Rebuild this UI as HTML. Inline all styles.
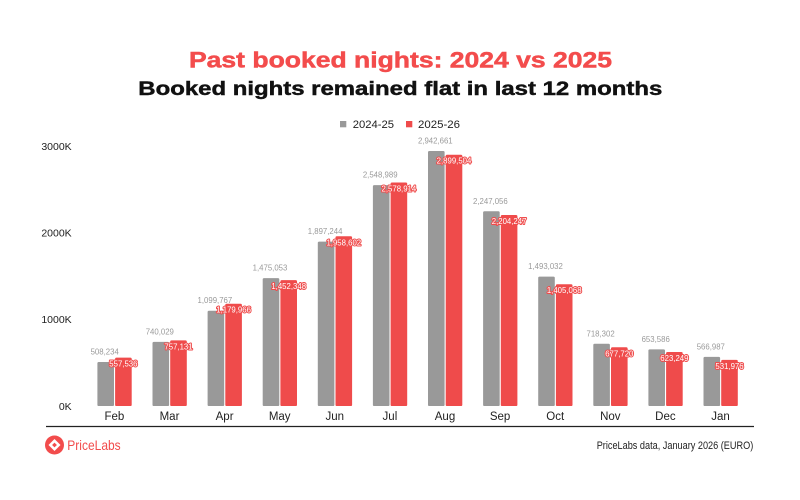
<!DOCTYPE html>
<html>
<head>
<meta charset="utf-8">
<style>
html,body{margin:0;padding:0;background:#fff;}
svg{display:block;}
text{font-family:"Liberation Sans",Arial,sans-serif;}
</style>
</head>
<body>
<svg width="800" height="500" viewBox="0 0 800 500" xmlns="http://www.w3.org/2000/svg">
<rect width="800" height="500" fill="#fff"/>

<!-- Titles -->
<text x="189" y="67.7" font-size="22" font-weight="bold" fill="#f34c4c" stroke="#f34c4c" stroke-width="0.5" textLength="423" lengthAdjust="spacingAndGlyphs">Past booked nights: 2024 vs 2025</text>
<text x="138.3" y="95" font-size="19" font-weight="bold" fill="#111" stroke="#111" stroke-width="0.45" textLength="524" lengthAdjust="spacingAndGlyphs">Booked nights remained flat in last 12 months</text>

<!-- Legend -->
<rect x="340" y="121" width="6.3" height="6.3" fill="#999999"/>
<text x="352.7" y="128" font-size="11.3" fill="#222" textLength="41.3" lengthAdjust="spacingAndGlyphs">2024-25</text>
<rect x="406" y="121" width="6.3" height="6.3" fill="#ef4b4b"/>
<text x="418" y="128" font-size="11.3" fill="#222" textLength="42" lengthAdjust="spacingAndGlyphs">2025-26</text>

<!-- Y axis labels -->
<g font-size="10.5" fill="#222" text-anchor="end">
<text x="71.7" y="149.8">3000K</text>
<text x="71.7" y="236.5">2000K</text>
<text x="71.7" y="323.1">1000K</text>
<text x="71.7" y="409.8">0K</text>
</g>

<!-- Gray bars -->
<g fill="#999999">
<rect x="97.4" y="361.95" width="16.6" height="44.05" rx="1.3"/>
<rect x="152.5" y="341.86" width="16.6" height="64.14" rx="1.3"/>
<rect x="207.6" y="310.69" width="16.6" height="95.31" rx="1.3"/>
<rect x="262.7" y="278.16" width="16.6" height="127.84" rx="1.3"/>
<rect x="317.8" y="241.57" width="16.6" height="164.43" rx="1.3"/>
<rect x="372.9" y="185.09" width="16.6" height="220.91" rx="1.3"/>
<rect x="428.0" y="150.97" width="16.6" height="255.03" rx="1.3"/>
<rect x="483.1" y="211.25" width="16.6" height="194.75" rx="1.3"/>
<rect x="538.2" y="276.60" width="16.6" height="129.40" rx="1.3"/>
<rect x="593.3" y="343.75" width="16.6" height="62.25" rx="1.3"/>
<rect x="648.4" y="349.36" width="16.6" height="56.64" rx="1.3"/>
<rect x="703.5" y="356.86" width="16.6" height="49.14" rx="1.3"/>
</g>

<!-- Red bars -->
<g fill="#ef4b4b">
<rect x="115.1" y="357.68" width="16.6" height="48.32" rx="1.3"/>
<rect x="170.2" y="340.38" width="16.6" height="65.62" rx="1.3"/>
<rect x="225.3" y="303.74" width="16.6" height="102.26" rx="1.3"/>
<rect x="280.4" y="280.13" width="16.6" height="125.87" rx="1.3"/>
<rect x="335.5" y="236.25" width="16.6" height="169.75" rx="1.3"/>
<rect x="390.6" y="182.49" width="16.6" height="223.51" rx="1.3"/>
<rect x="445.7" y="154.71" width="16.6" height="251.29" rx="1.3"/>
<rect x="500.8" y="214.97" width="16.6" height="191.03" rx="1.3"/>
<rect x="555.9" y="284.23" width="16.6" height="121.77" rx="1.3"/>
<rect x="611.0" y="347.26" width="16.6" height="58.74" rx="1.3"/>
<rect x="666.1" y="351.99" width="16.6" height="54.01" rx="1.3"/>
<rect x="721.2" y="359.90" width="16.6" height="46.10" rx="1.3"/>
</g>

<!-- Gray data labels -->
<g font-size="7.8" fill="#9a9a9a" text-anchor="middle">
<text x="104.7" y="354.5">508,234</text>
<text x="159.8" y="334.4">740,029</text>
<text x="214.9" y="303.2">1,099,767</text>
<text x="270.0" y="270.7">1,475,053</text>
<text x="325.1" y="234.1">1,897,244</text>
<text x="380.2" y="177.6">2,548,989</text>
<text x="435.3" y="143.5">2,942,661</text>
<text x="490.4" y="203.8">2,247,056</text>
<text x="545.5" y="269.1">1,493,032</text>
<text x="600.6" y="336.3">718,302</text>
<text x="655.7" y="341.9">653,586</text>
<text x="710.8" y="349.4">566,987</text>
</g>

<!-- Red data labels -->
<g font-size="7.8" fill="#fff" stroke="#ef4b4b" stroke-width="2" paint-order="stroke" stroke-linejoin="round" text-anchor="middle">
<text x="123.4" y="366.7">557,536</text>
<text x="178.5" y="349.4">757,131</text>
<text x="233.6" y="312.7">1,179,966</text>
<text x="288.7" y="289.1">1,452,348</text>
<text x="343.8" y="245.3">1,958,602</text>
<text x="398.9" y="191.5">2,578,914</text>
<text x="454.0" y="163.7">2,899,504</text>
<text x="509.1" y="224.0">2,204,247</text>
<text x="564.2" y="293.2">1,405,068</text>
<text x="619.3" y="356.3">677,720</text>
<text x="674.4" y="361.0">623,249</text>
<text x="729.5" y="368.9">531,976</text>
</g>

<!-- X labels -->
<g font-size="11.5" fill="#222" text-anchor="middle">
<text x="114.4" y="420">Feb</text>
<text x="169.5" y="420">Mar</text>
<text x="224.6" y="420">Apr</text>
<text x="279.7" y="420">May</text>
<text x="334.8" y="420">Jun</text>
<text x="389.9" y="420">Jul</text>
<text x="445.0" y="420">Aug</text>
<text x="500.1" y="420">Sep</text>
<text x="555.2" y="420">Oct</text>
<text x="610.3" y="420">Nov</text>
<text x="665.4" y="420">Dec</text>
<text x="720.5" y="420">Jan</text>
</g>

<!-- Axis line -->
<line x1="46" y1="426.5" x2="754" y2="426.5" stroke="#222" stroke-width="1.2"/>

<!-- Footer logo -->
<circle cx="54.5" cy="445" r="9.5" fill="#f24c4c"/>
<path d="M54.5 439 L60.5 445 L54.5 451 L48.5 445 Z" fill="#fff"/>
<path d="M54.5 442.6 L56.9 445 L54.5 447.4 L52.1 445 Z" fill="#f24c4c"/>
<text x="67.3" y="450" font-size="14" fill="#f24c4c" textLength="53.4" lengthAdjust="spacingAndGlyphs">PriceLabs</text>

<text x="596.7" y="449" font-size="11" fill="#222" textLength="156.6" lengthAdjust="spacingAndGlyphs">PriceLabs data, January 2026 (EURO)</text>
</svg>
</body>
</html>
